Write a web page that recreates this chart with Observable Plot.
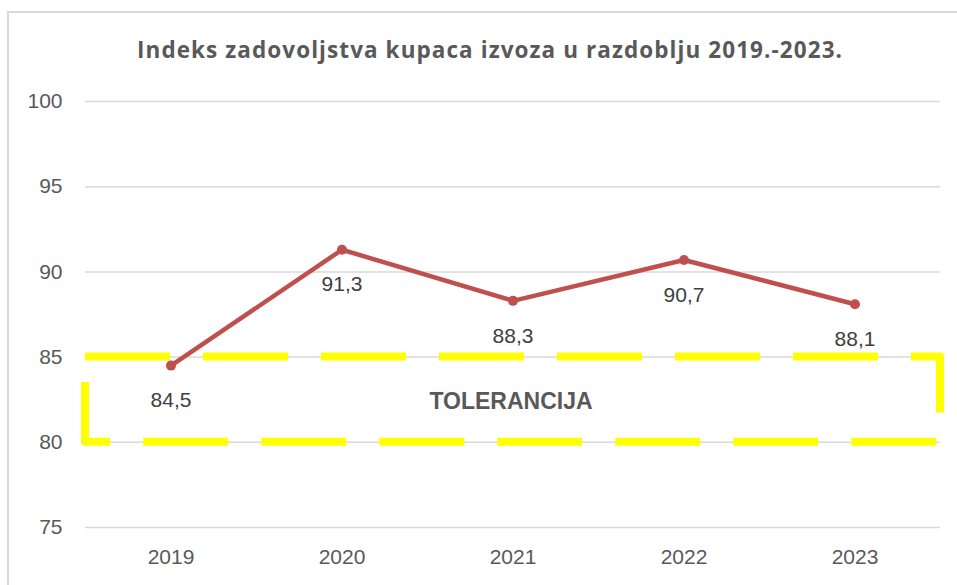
<!DOCTYPE html>
<html>
<head>
<meta charset="utf-8">
<script src="https://cdn.jsdelivr.net/npm/d3@7"></script>
<script src="https://cdn.jsdelivr.net/npm/@observablehq/plot@0.6"></script>
<style>
  html, body { margin: 0; padding: 0; background: #fff; overflow: hidden; }
  body { width: 957px; height: 585px; position: relative; font-family: "Liberation Sans", Arial, sans-serif; }
  #frame { position: absolute; left: 7px; top: 11px; width: 1100px; height: 1000px;
           border-left: 2px solid #d9d9d9; border-top: 2px solid #d9d9d9; pointer-events: none; }
  #title { position: relative; height: 80px; }
  #title span { position: absolute; left: 137px; top: 38px; line-height: 24px; white-space: nowrap;
                font-family: "Open Sans", sans-serif; font-size: 22.5px; font-weight: bold; color: #595959; }
  #chart { position: relative; height: 505px; }
</style>
</head>
<body>
<div id="frame"></div>
<div id="title"><span id="titleText"></span></div>
<div id="chart"></div>
<script>
const titleText = "Indeks zadovoljstva kupaca izvoza u razdoblju 2019.-2023.";
const years = ["2019", "2020", "2021", "2022", "2023"];
const values = [84.5, 91.3, 88.3, 90.7, 88.1];
const yTicks = [75, 80, 85, 90, 95, 100];
const toleranceLow = 80;
const toleranceHigh = 85;
const toleranceLabel = "TOLERANCIJA";

const data = years.map((year, i) => ({year, value: values[i]}));
const fmt = v => v.toFixed(1).replace(".", ",");

// title, fitted to the reference width
const span = document.getElementById("titleText");
span.textContent = titleText;
const ctx = document.createElement("canvas").getContext("2d");
ctx.font = "bold 22.5px 'Open Sans', sans-serif";
const w = ctx.measureText(titleText).width;
span.style.letterSpacing = ((705 - w) / (titleText.length - 1)) + "px";

const chart = Plot.plot({
  width: 957,
  height: 505,
  marginLeft: 85,
  marginRight: 17,
  marginTop: 21,
  marginBottom: 58,
  style: {fontFamily: "'Liberation Sans', Arial, sans-serif", fontSize: "21px", color: "#595959", background: "transparent"},
  x: {type: "band", domain: years, padding: 0},
  y: {domain: [75, 100]},
  marks: [
    Plot.gridY(yTicks, {stroke: "#d9d9d9", strokeOpacity: 1, strokeWidth: 1.5}),
    Plot.axisY(yTicks, {tickSize: 0, tickPadding: 23, fontSize: 21, fill: "#595959", label: null}),
    Plot.axisX({tickSize: 0, tickPadding: 22, fontSize: 21, fill: "#595959", label: null}),
    Plot.rect([{y1: toleranceLow, y2: toleranceHigh}], {
      y1: "y1", y2: "y2", fill: "none", stroke: "#ffff00", strokeWidth: 8,
      strokeDasharray: "85,33", strokeLinejoin: "round"
    }),
    Plot.text([{x: years[2], y: (toleranceLow + toleranceHigh) / 2}], {
      x: "x", y: "y", text: () => toleranceLabel, dy: 2, dx: -2,
      fontSize: 23, fontWeight: "bold", fill: "#595959"
    }),
    Plot.line(data, {x: "year", y: "value", stroke: "#c0504d", strokeWidth: 4.5, strokeLinejoin: "round"}),
    Plot.dot(data, {x: "year", y: "value", r: 5, fill: "#c0504d", stroke: "none"}),
    Plot.text(data, {x: "year", y: "value", text: d => fmt(d.value), dy: 35, fontSize: 21, fill: "#404040"})
  ]
});
document.getElementById("chart").appendChild(chart);
</script>
</body>
</html>
